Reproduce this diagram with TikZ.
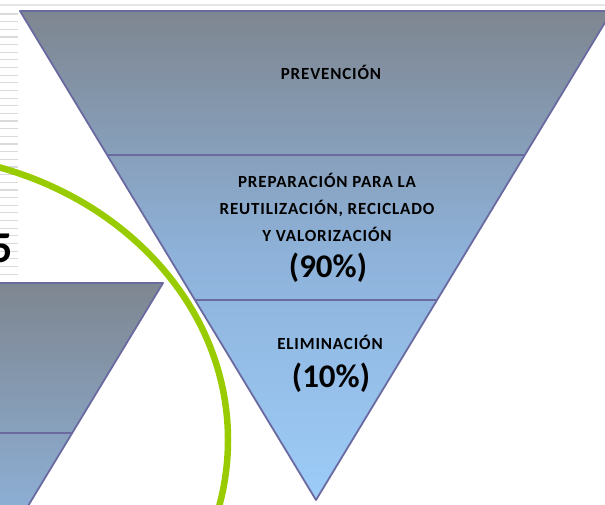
\documentclass[tikz,border=0pt]{standalone}
\usepackage{fontspec}
\setmainfont{Carlito}
\newfontfamily\tierfont[LetterSpace=5]{Carlito}
\usetikzlibrary{positioning}
\definecolor{tiertop}{HTML}{7E8690}
\definecolor{tiermid}{HTML}{8EB2DA}
\definecolor{tierbot}{HTML}{9CCCF8}
\definecolor{tieredge}{HTML}{6A6AA0}
\definecolor{tiershadow}{HTML}{8E8E8E}
\definecolor{ringgreen}{HTML}{99CC00}
\definecolor{rulegray}{HTML}{DADADA}

\begin{document}
\begin{tikzpicture}
  [x=1pt,y=-1pt,
   tier/.style={top color=tiertop,bottom color=tierbot,middle color=tiermid},
   edge/.style={draw=tieredge,line width=1.8,line join=round},
   caption/.style={font=\tierfont\bfseries\fontsize{17}{27}\selectfont,text=black,align=center,inner sep=0},
   share/.style={font=\bfseries\fontsize{33}{33}\selectfont,text=black,inner sep=0}]
  \useasboundingbox (0,0) rectangle (605,505);
  \clip (0,0) rectangle (605,505);

  \draw[rulegray!70,line width=2] (0,5) -- (605,5);
  \foreach \i in {0,...,34}
    \draw[rulegray,line width=1.2] (0,{14+7.65*\i}) -- (18,{14+7.65*\i});

  \node[anchor=base east,inner sep=0,font=\fontsize{44}{44}\bfseries\selectfont] (num) at (13,262) {5};

  % small funnel on the left
  \coordinate (sl) at (-140,283);
  \coordinate (sr) at (163,283);
  \coordinate (sa) at (-133,772);
  \fill[tiershadow,shift={(3,3)}] (sl) -- (sr) -- (sa) -- cycle;
  \shade[tier] (sl) -- (sr) -- (sa) -- cycle;
  \draw[edge] (sl) -- (sr) -- (sa) -- cycle;
  \draw[edge] (-140,433) -- (72,433);

  % main funnel
  \coordinate (tl) at (20,11);
  \coordinate (tr) at (612,11);
  \coordinate (apex) at (316,500);
  \fill[tiershadow,shift={(3,3)}] (tl) -- (tr) -- (apex) -- cycle;
  \shade[tier] (tl) -- (tr) -- (apex) -- cycle;
  \draw[edge] (tl) -- (tr) -- (apex) -- cycle;
  \draw[edge] (107,155) -- (525,155);
  \draw[edge] (195,300) -- (437,300);

  \node[caption] (prev) at (331,72) {PREVENCIÓN};
  \node[caption] (prep) at (327,207) {PREPARACIÓN PARA LA\\REUTILIZACIÓN, RECICLADO\\Y VALORIZACIÓN};
  \node[share] (p90) at (328,268) {(90\%)};
  \node[caption] (elim) at (330,342) {ELIMINACIÓN};
  \node[share] (p10) at (331,378) {(10\%)};

  \draw[ringgreen,line width=6.5] (-100,440) ellipse [x radius=328,y radius=286];
\end{tikzpicture}
\end{document}
